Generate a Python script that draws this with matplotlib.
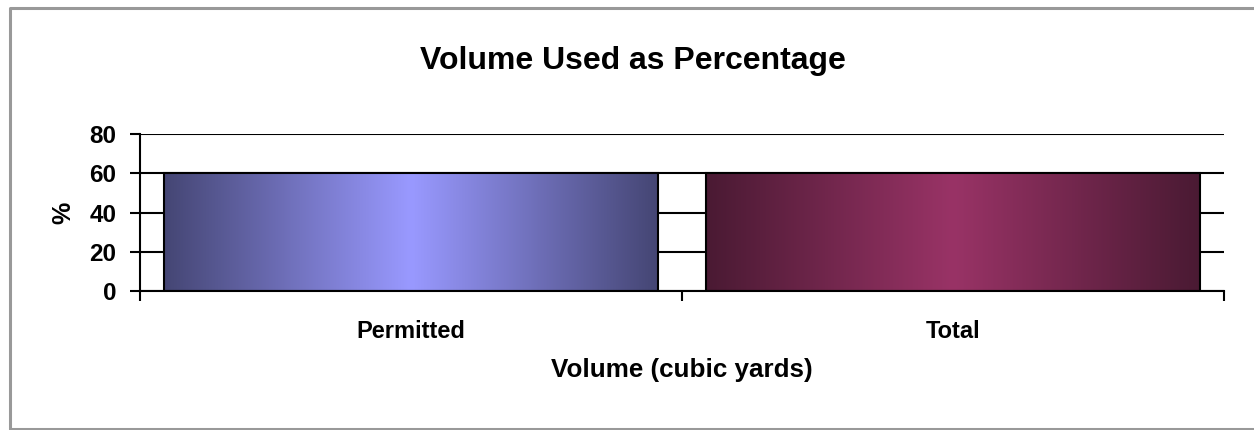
import matplotlib
matplotlib.use("Agg")
import matplotlib.pyplot as plt
import numpy as np
from matplotlib.colors import LinearSegmentedColormap
from matplotlib.lines import Line2D

categories = ["Permitted", "Total"]
values = [60, 60]
yticks = [0, 20, 40, 60, 80]
title = "Volume Used as Percentage"
xlabel = "Volume (cubic yards)"
ylabel = "%"

dark_light = [("#454674", "#9999FF"), ("#4A1A33", "#993366")]

plt.rcParams['font.family'] = ['Liberation Sans', 'DejaVu Sans']
W, H = 1254, 430
fig = plt.figure(figsize=(W / 100, H / 100), dpi=100)

# chart-area frame (left, top, bottom; right edge cut off)
bx = [W + 5, 9.5, 9.5, W + 5]
by = [H - 7.5, H - 7.5, H - 428.5, H - 428.5]
fig.add_artist(Line2D([v / W for v in bx], [v / H for v in by], transform=fig.transFigure,
                      color="#999999", linewidth=2.2))

ax = fig.add_axes([140 / W, 1 - 291 / H, (1224 - 140) / W, (291 - 134) / H])

x = np.arange(len(categories))
bars = ax.bar(x, values, width=0.91, facecolor="none", edgecolor="black", linewidth=1.5, zorder=3)

grad = np.concatenate([np.linspace(0, 1, 128), np.linspace(1, 0, 128)])[None, :]
for b, (d, l) in zip(bars, dark_light):
    cmap = LinearSegmentedColormap.from_list("g", [d, l])
    x0, y0 = b.get_x(), b.get_y()
    w, h = b.get_width(), b.get_height()
    im = ax.imshow(grad, cmap=cmap, extent=[x0, x0 + w, y0, y0 + h], aspect="auto",
                   zorder=2, interpolation="bicubic")
    im.set_clip_path(b)

ax.set_xlim(-0.5, len(categories) - 0.5)
ax.set_ylim(0, 80)
ax.set_yticks(yticks)
ax.set_xticks(x)
ax.set_xticklabels(categories, fontsize=17, fontweight="bold")
ax.set_xticks(np.arange(-0.5, len(categories)), minor=True)
ax.tick_params(axis="x", which="major", length=0, pad=21)
ax.tick_params(axis="x", which="minor", length=7, width=1.5, direction="out")
ax.tick_params(axis="y", length=7, width=1.5, labelsize=17.5, pad=10)
for lab in ax.get_yticklabels():
    lab.set_fontweight("bold")
ax.yaxis.grid(True, color="black", linewidth=1.5, zorder=1)
ax.set_axisbelow(True)
for s in ["top", "right"]:
    ax.spines[s].set_visible(False)
for s in ["left", "bottom"]:
    ax.spines[s].set_linewidth(1.5)
ax.set_xlabel(xlabel, fontsize=18.7, fontweight="bold", labelpad=11)
ax.set_ylabel(ylabel, fontsize=18, fontweight="bold", labelpad=10)
fig.text(0.5 + 6 / W, 1 - 69 / H, title, ha="center", va="baseline", fontsize=23, fontweight="bold")

fig.savefig("out.png", dpi=100)
